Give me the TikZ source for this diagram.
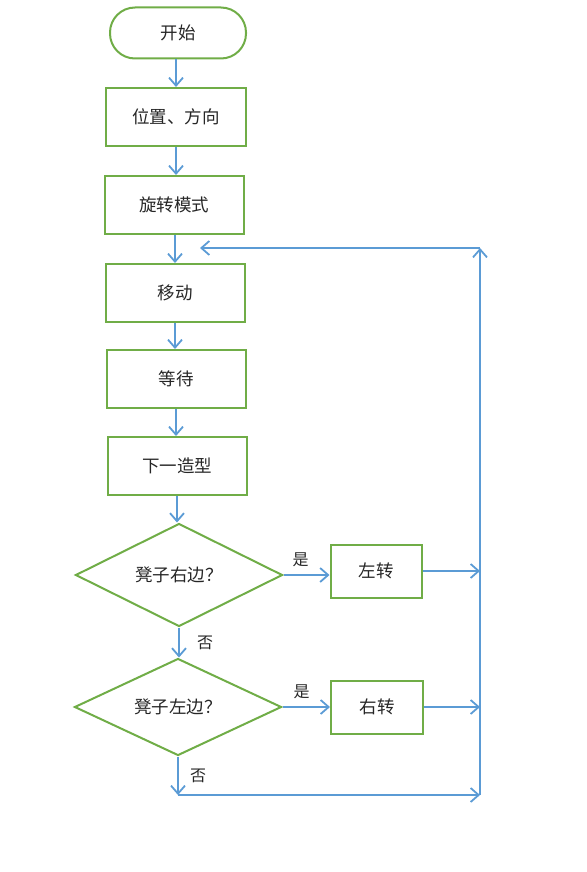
\documentclass[tikz,border=0pt]{standalone}
\usepackage{fontspec}
\setmainfont{Noto Sans CJK SC}
\usetikzlibrary{arrows.meta,shapes.geometric}
\definecolor{boxgreen}{HTML}{70AD47}
\definecolor{lineblue}{HTML}{5B9BD5}
\begin{document}
\begin{tikzpicture}[x=1pt,y=-1pt,
  every node/.style={font=\fontsize{17.5}{20}\selectfont, text=black!85},
  term/.style={draw=boxgreen, line width=2pt, rounded corners=25pt, minimum width=136pt, minimum height=51pt, inner sep=0pt},
  proc/.style={draw=boxgreen, line width=2pt, minimum width=139pt, minimum height=58pt, inner sep=0pt},
  smallproc/.style={draw=boxgreen, line width=2pt, minimum width=91pt, minimum height=53pt, inner sep=0pt},
  dec/.style={draw=boxgreen, line width=2pt, diamond, aspect=2, minimum width=207pt, minimum height=100pt, inner sep=0pt},
  arr/.style={draw=lineblue, line width=1.8pt, -{Straight Barb[length=8pt,width=14pt]}},
  lbl/.style={font=\fontsize{16}{18}\selectfont}
]
\useasboundingbox (0,0) rectangle (586,872);

\node[term] (start) at (178,33) {开始};
\node[proc, minimum width=140pt] (pos) at (176,117) {位置、方向};
\node[proc] (rot) at (174,205) {旋转模式};
\node[proc] (move) at (175,293) {移动};
\node[proc] (wait) at (176,379) {等待};
\node[proc] (next) at (177,466) {下一造型};
\node[dec, minimum height=103pt] (d1) at (179,575) {凳子右边？};
\node[smallproc] (left) at (376,571) {左转};
\node[dec, minimum height=97pt] (d2) at (178,707) {凳子左边？};
\node[smallproc, minimum width=92pt] (right) at (377,707) {右转};

\coordinate (c1) at (480,571);
\coordinate (c2) at (480,707);
\coordinate (c3) at (178,795);
\coordinate (c4) at (480,795);
\coordinate (top) at (480,248);
\coordinate (topL) at (200,248);

\draw[arr] (start.south -| pos.north) -- (pos.north);
\draw[arr] (pos.south) -- (pos.south |- rot.north);
\draw[arr] (rot.south -| move.north) -- (move.north);
\draw[arr] (move.south) -- (move.south |- wait.north);
\draw[arr] (wait.south) -- (wait.south |- next.north);
\draw[arr] (next.south) -- (next.south |- d1.north);

\draw[arr] (d1.east) -- node[lbl, pos=0.37, above=4pt] {是} (d1.east -| left.west);
\draw[arr] (left.east) -- (c1);
\draw[arr] (d1.south) -- node[lbl, right=14pt] {否} (d1.south |- d2.north);
\draw[arr] (d2.east) -- node[lbl, pos=0.4, above=4pt] {是} (d2.east -| right.west);
\draw[arr] (right.east) -- (c2);
\draw[arr] (d2.south) -- node[lbl, right=8pt] {否} (c3);
\draw[arr] (c3) -- (c4);
\draw[arr] (c4) -- (top);
\draw[arr] (top) -- (topL);
\end{tikzpicture}
\end{document}
